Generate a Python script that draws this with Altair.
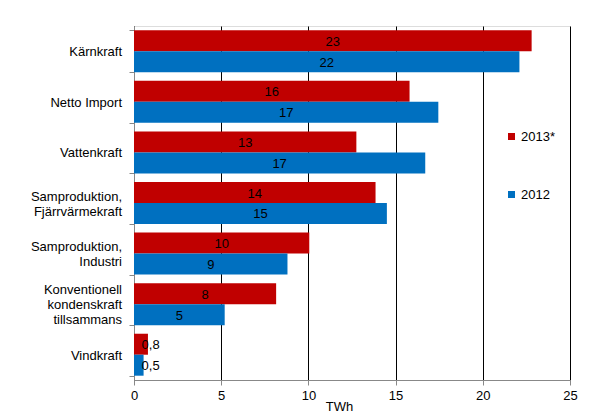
import altair as alt
import pandas as pd

categories = ["Kärnkraft", "Netto Import", "Vattenkraft", "Samproduktion,|Fjärrvärmekraft",
              "Samproduktion,|Industri", "Konventionell|kondenskraft|tillsammans", "Vindkraft"]
series = ["2013*", "2012"]
v2013 = [22.8, 15.8, 12.75, 13.85, 10.05, 8.15, 0.8]
v2012 = [22.1, 17.45, 16.7, 14.5, 8.8, 5.2, 0.55]
lab2013 = ["23", "16", "13", "14", "10", "8", "0,8"]
lab2012 = ["22", "17", "17", "15", "9", "5", "0,5"]
colors = ["#C00000", "#0070C0"]
x_ticks = [0, 5, 10, 15, 20, 25]

rows = []
for i, c in enumerate(categories):
    rows.append({"cat": c, "serie": series[0], "val": v2013[i], "lab": lab2013[i]})
    rows.append({"cat": c, "serie": series[1], "val": v2012[i], "lab": lab2012[i]})
df = pd.DataFrame(rows)

LH = 15
line_rows = []
for c in categories:
    parts = c.split("|")
    k = len(parts)
    for j, p in enumerate(parts):
        line_rows.append({"cat": c, "line": p, "dyv": (j - (k - 1) / 2) * LH})
lines_df = pd.DataFrame(line_rows)

FONT = "Liberation Sans"
FS = 13

y_enc = alt.Y("cat:N", sort=categories, title=None,
              scale=alt.Scale(paddingInner=0.17, paddingOuter=0.085),
              axis=alt.Axis(labels=False, tickBand="extent", tickSize=5,
                            tickColor="#888888", domainColor="#888888", grid=False))
yoff = alt.YOffset("serie:N", sort=series, scale=alt.Scale(domain=series))

bars = alt.Chart(df).mark_bar().encode(
    y=y_enc,
    yOffset=yoff,
    x=alt.X("val:Q", title="TWh",
            scale=alt.Scale(domain=[0, 25], nice=False),
            axis=alt.Axis(values=x_ticks, grid=True, gridColor="black", gridOpacity=1,
                          gridWidth=1, tickColor="#888888", tickSize=5, labelFlush=False,
                          domainColor="#888888", labelFontSize=FS, labelFont=FONT,
                          labelColor="black", labelPadding=4, titleFontSize=FS, titleFont=FONT,
                          titleFontWeight="normal", titleColor="black",
                          titlePadding=-2, titleX=205)),
    color=alt.Color("serie:N", sort=series,
                    scale=alt.Scale(domain=series, range=colors),
                    legend=alt.Legend(title=None, orient="none", legendX=371, legendY=104,
                                      symbolType="square", symbolSize=49,
                                      symbolStrokeWidth=0, rowPadding=44,
                                      labelFontSize=FS, labelFont=FONT, labelColor="black",
                                      labelOffset=3, padding=0)),
)

texts = alt.Chart(df).transform_calculate(mid="max(datum.val / 2, 0.95)").mark_text(
    fontSize=FS, font=FONT, color="black", align="center", baseline="middle", dy=1
).encode(
    y=alt.Y("cat:N", sort=categories),
    yOffset=yoff,
    x=alt.X("mid:Q"),
    text="lab:N",
)

label_layers = []
for d in sorted(set(lines_df["dyv"])):
    label_layers.append(
        alt.Chart(lines_df).transform_filter(f"datum.dyv == {d}").mark_text(
            fontSize=FS, font=FONT, color="black", align="right", baseline="middle",
            dy=d + 1
        ).encode(
            y=alt.Y("cat:N", sort=categories),
            x=alt.value(-12),
            text="line:N",
        )
    )

chart = alt.layer(bars, texts, *label_layers).properties(
    width=436, height=354,
    autosize=alt.AutoSizeParams(type="none"),
    padding={"left": 126, "top": 18, "right": 29, "bottom": 38},
).configure_view(stroke=None).configure(background="white")

chart.save("out.html", embed_options={"renderer": "svg", "actions": False})
